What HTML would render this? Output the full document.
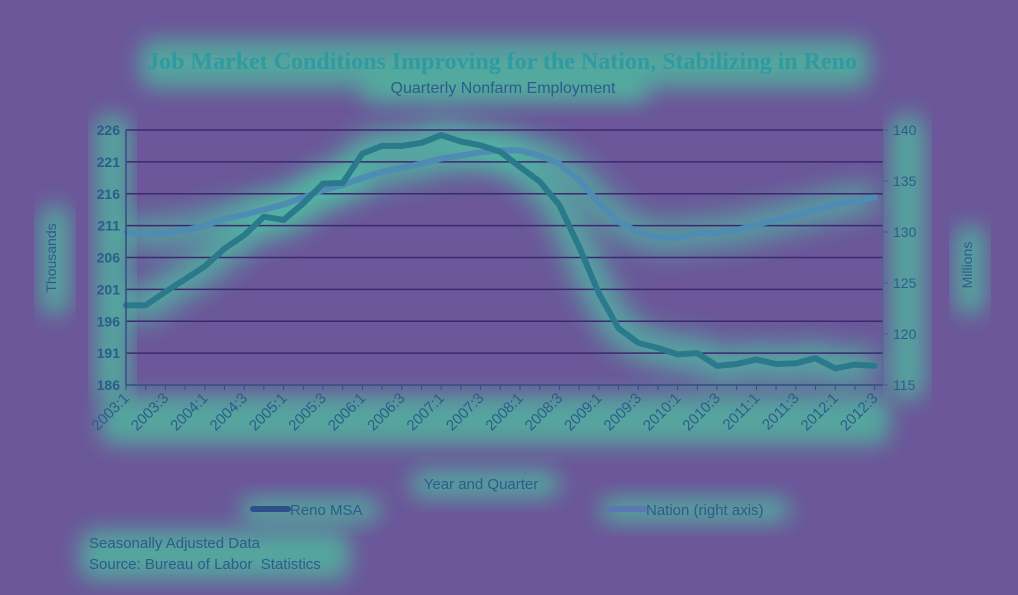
<!DOCTYPE html>
<html><head><meta charset="utf-8"><style>
html,body{margin:0;padding:0;background:#6b5799;width:1018px;height:595px;overflow:hidden}
svg{display:block;font-family:"Liberation Sans",sans-serif}
.t{fill:#2d5c8c}
</style></head><body>
<svg id="chart" width="1018" height="595" viewBox="0 0 1018 595" xmlns="http://www.w3.org/2000/svg">
<defs>
<filter id="glow" x="-20%" y="-50%" width="140%" height="200%"><feGaussianBlur stdDeviation="14"/></filter>
<filter id="glow2" x="-20%" y="-50%" width="140%" height="200%"><feGaussianBlur stdDeviation="11"/></filter>
</defs>
<rect x="0" y="0" width="1018" height="595" fill="#6b5799"/>
<g id="glows"></g>
<g id="grid"></g>
<g id="lines"></g>
<g id="axes"></g>
<text x="502" y="69" text-anchor="middle" font-family="Liberation Serif,serif" font-weight="bold" font-size="24" fill="#2f9aa0">Job  Market Conditions Improving for the Nation, Stabilizing in Reno</text>
<text x="503" y="93" text-anchor="middle" font-size="16" class="t">Quarterly Nonfarm Employment</text>
<text transform="translate(56,258) rotate(-90)" text-anchor="middle" font-size="14" class="t">Thousands</text>
<text transform="translate(972,265) rotate(-90)" text-anchor="middle" font-size="14" class="t">Millions</text>
<text x="481" y="489" text-anchor="middle" font-size="15" class="t">Year and Quarter</text>
<g>
<line x1="253" y1="509" x2="288" y2="509" stroke="#2f4f8c" stroke-width="6" stroke-linecap="round"/>
<text x="290" y="515" font-size="15" class="t">Reno MSA</text>
<line x1="609" y1="509" x2="644" y2="509" stroke="#5a78b4" stroke-width="6" stroke-linecap="round"/>
<text x="646" y="515" font-size="15" class="t">Nation (right axis)</text>
</g>
<text x="89" y="548" font-size="15" class="t">Seasonally Adjusted Data</text>
<text x="89" y="569" font-size="15" class="t">Source: Bureau of Labor&#160; Statistics</text>
</svg>
<script>
const categories = [];
for (let y = 2003; y <= 2012; y++) for (let q = 1; q <= 4; q++) categories.push(y + ':' + q);
categories.length = 39;
const renoValues = [198.5,198.5,200.6,202.6,204.6,207.4,209.5,212.4,211.9,214.5,217.6,217.7,222.3,223.5,223.5,224.0,225.2,224.2,223.6,222.6,220.2,217.9,214.2,207.7,200.4,194.9,192.6,191.8,190.8,191.0,189.0,189.3,190.0,189.3,189.4,190.2,188.6,189.2,189.0];
const nationValues = [130.0,129.8,129.9,130.2,130.6,131.3,131.7,132.2,132.7,133.4,134.1,134.6,135.3,135.9,136.3,136.7,137.2,137.5,137.8,138.0,138.0,137.5,136.7,135.1,132.9,131.0,130.0,129.5,129.4,129.9,129.9,130.2,130.7,131.2,131.6,132.2,132.7,133.0,133.4];
const leftTicks = [186,191,196,201,206,211,216,221,226];
const rightTicks = [115,120,125,130,135,140];

const NS = 'http://www.w3.org/2000/svg';
const X0 = 126, X1 = 883, Y0 = 130, Y1 = 385;
const step = 19.7;
const xAt = i => X0 + i * step;
const yL = v => Y1 - (v - 186) / 40 * (Y1 - Y0);
const yR = v => Y1 - (v - 115) / 25 * (Y1 - Y0);
function mk(tag, attrs, parent){const e=document.createElementNS(NS,tag);for(const k in attrs)e.setAttribute(k,attrs[k]);parent.appendChild(e);return e;}
const grid = document.getElementById('grid'), lines = document.getElementById('lines'), axes = document.getElementById('axes'), glows = document.getElementById('glows');

const gl = [[140,40,730,48],[360,75,290,28],[40,205,30,110],[955,225,30,90],[100,395,790,50],[410,470,150,28],[240,497,140,26],[600,497,190,26],[80,530,270,50],[95,115,35,285],[890,115,35,285]];
gl.forEach(r=>{
  const e = mk('rect',{x:r[0],y:r[1],width:r[2],height:r[3],rx:14,fill:'#4dbfa0',opacity:0.75,filter:'url(#glow2)'},glows);
  
  
});

leftTicks.forEach(v=>{
  const y = yL(v);
  if (v !== 186) {
    const g = mk('line',{x1:X0,x2:X1,y1:y,y2:y,stroke:'#3a2a6e','stroke-width':1.5},grid);
    
    
  }
  const t = mk('text',{x:X0-6,y:y+5,'text-anchor':'end','font-size':14,'font-weight':'bold',class:'t'},axes);
  t.textContent = v;
  
  
});
rightTicks.forEach(v=>{
  const y = yR(v);
  const tk = mk('line',{x1:X1,x2:X1+5,y1:y,y2:y,stroke:'#3f5f8a','stroke-width':1},axes);
  
  
  const t = mk('text',{x:X1+10,y:y+5,'font-size':14,class:'t'},axes);
  t.textContent = v;
  
  
});
const la = mk('line',{x1:X0,x2:X0,y1:Y0,y2:Y1,stroke:'#2f4f80','stroke-width':1.5},axes);


const ra = mk('line',{x1:X1,x2:X1,y1:Y0,y2:Y1,stroke:'#4a6a90','stroke-width':1},axes);


const xa = mk('line',{x1:X0,x2:X1,y1:Y1,y2:Y1,stroke:'#2f4f80','stroke-width':1.5},axes);


categories.forEach((c,i)=>{
  const x = xAt(i);
  const tk = mk('line',{x1:x,x2:x,y1:Y1,y2:Y1+5,stroke:'#2f4f80','stroke-width':1},axes);
  
  
  if (i % 2 === 0) {
    const t = mk('text',{transform:`translate(${x+4},${Y1+14}) rotate(-45)`,'text-anchor':'end','font-size':15,class:'t'},axes);
    t.textContent = c;
    
    
  }
});

const pts = (vals, f) => vals.map((v,i)=>xAt(i).toFixed(1)+','+f(v).toFixed(1)).join(' ');
const nP = pts(nationValues, yR), rP = pts(renoValues, yL);
const ng = mk('polyline',{points:nP,fill:'none',stroke:'#4dc4a4','stroke-width':26,opacity:0.8,filter:'url(#glow)','stroke-linejoin':'round'},glows);


const rg = mk('polyline',{points:rP,fill:'none',stroke:'#4dc4a4','stroke-width':30,opacity:0.85,filter:'url(#glow)','stroke-linejoin':'round'},glows);


const nl = mk('polyline',{points:nP,fill:'none',stroke:'#4f8cb4','stroke-width':6,'stroke-linejoin':'round','stroke-linecap':'round'},lines);


const rl = mk('polyline',{points:rP,fill:'none',stroke:'#2a7a8c','stroke-width':6,'stroke-linejoin':'round','stroke-linecap':'round'},lines);


</script>
</body></html>
